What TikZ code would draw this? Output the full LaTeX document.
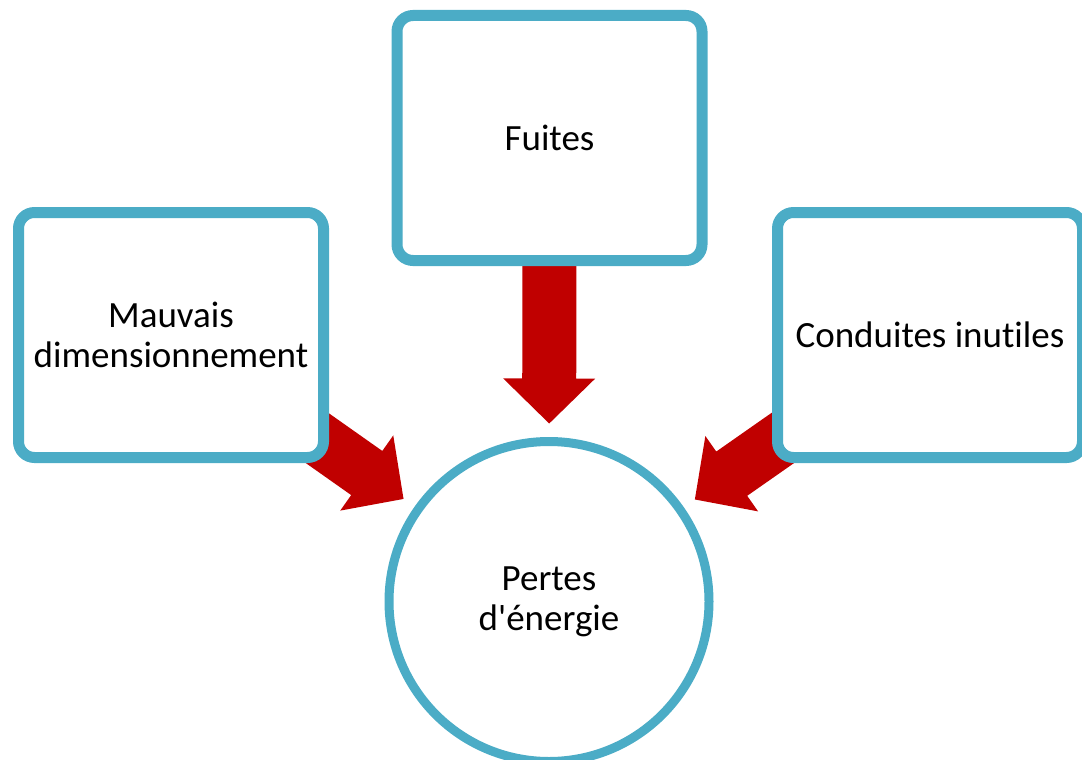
\documentclass[tikz,border=0pt]{standalone}
\usepackage{fontspec}
\setmainfont{Carlito}[Ligatures={NoCommon}]
\usetikzlibrary{calc,backgrounds}
\definecolor{boxblue}{RGB}{75,172,198}
\definecolor{arrowred}{RGB}{192,0,0}
\newcommand\blockarr[2]{%
  \coordinate (#1-#2-h) at ($(#2.center)!223pt!(#1.center)$);
  \coordinate (#1-#2-t) at ($(#2.center)!178pt!(#1.center)$);
  \fill[arrowred] ($(#1.center)!27pt!90:(#2.center)$) -- ($(#1-#2-h)!27pt!90:(#2.center)$)
    -- ($(#1-#2-h)!46pt!90:(#2.center)$) -- (#1-#2-t)
    -- ($(#1-#2-h)!46pt!-90:(#2.center)$) -- ($(#1-#2-h)!27pt!-90:(#2.center)$)
    -- ($(#1.center)!27pt!-90:(#2.center)$) -- cycle;}
\tikzset{
  box/.style={draw=boxblue, fill=white, line width=11pt, rounded corners=16pt,
    minimum width=305pt, minimum height=245pt, inner sep=0pt, outer sep=0pt,
    align=center, font=\fontsize{37pt}{40pt}\selectfont},
  ring/.style={circle, draw=boxblue, fill=white, line width=9pt,
    minimum size=320pt, inner sep=0pt, outer sep=0pt,
    align=center, font=\fontsize{37pt}{40pt}\selectfont}
}
\begin{document}
\begin{tikzpicture}[x=1pt,y=-1pt]
\path[use as bounding box] (0,0) rectangle (1082,760);
\clip (0,0) rectangle (1082,760);
\node[ring] (perte) at (549,601.5) {Pertes\\d\textquotesingle énergie};
\node[box] (mauvais) at (171,335) {Mauvais\\dimensionnement};
\node[box] (fuites) at (549.5,138) {Fuites};
\node[box] (conduites) at (930,335) {Conduites inutiles};
\begin{pgfonlayer}{background}
\blockarr{mauvais}{perte}
\blockarr{fuites}{perte}
\blockarr{conduites}{perte}
\end{pgfonlayer}
\end{tikzpicture}
\end{document}
